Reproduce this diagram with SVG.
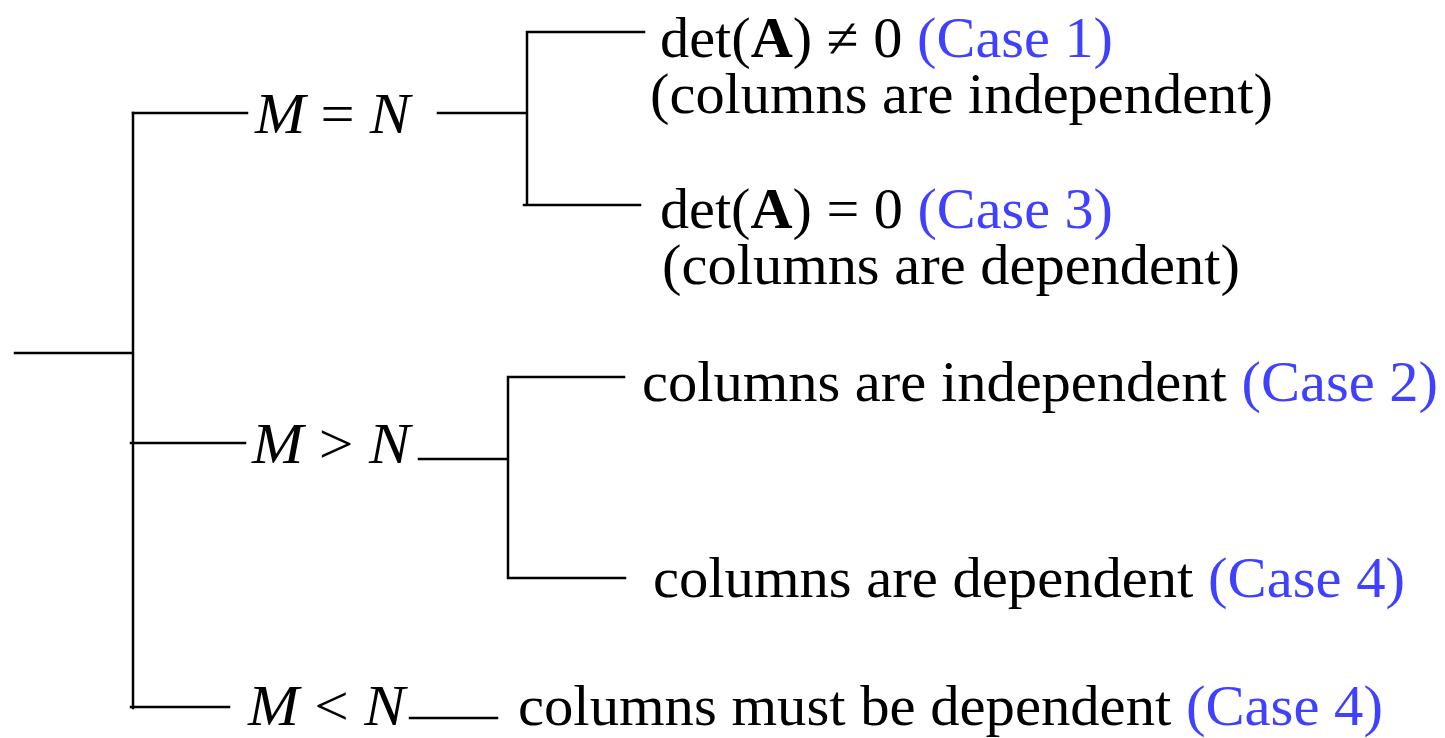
<svg xmlns="http://www.w3.org/2000/svg" width="1445" height="738" viewBox="0 0 1445 738">
<style>
.ln{stroke:#000;stroke-width:2.5;fill:none;stroke-linecap:square}
.t{font-family:"Liberation Serif","Times New Roman",serif;font-size:56px;fill:#000}
.m{font-family:"Liberation Serif","Times New Roman",serif;font-size:56px;fill:#000;font-style:italic}
.b{font-weight:bold}
.c{fill:#4040ff}
</style>
<rect width="1445" height="738" fill="#fff"/>
<g id="connectors">
<path class="ln" d="M15 353H133M133 113V708"/>
<path class="ln" d="M133 113H247M438 113H527M527 32V205M527 32H644M524 205H640"/>
<path class="ln" d="M131 443H245M419 459H508M508 377V578M508 377H624M508 578H625"/>
<path class="ln" d="M131 707H229M410 718H497"/>
</g>
<g id="n-meqn"><text class="m" x="255" y="133" textLength="155" lengthAdjust="spacingAndGlyphs">M<tspan font-style="normal"> = </tspan>N</text></g>
<g id="n-mgtn"><text class="m" x="252" y="463" textLength="158" lengthAdjust="spacingAndGlyphs">M<tspan font-style="normal"> &gt; </tspan>N</text></g>
<g id="n-mltn"><text class="m" x="248" y="725" textLength="157" lengthAdjust="spacingAndGlyphs">M<tspan font-style="normal"> &lt; </tspan>N</text></g>
<g id="n-case1">
<text class="t" x="660" y="57" textLength="453" lengthAdjust="spacingAndGlyphs">det(<tspan class="b">A</tspan>) ≠ 0 <tspan class="c">(Case 1)</tspan></text>
<text class="t" x="650" y="113" textLength="623" lengthAdjust="spacingAndGlyphs">(columns are independent)</text>
</g>
<g id="n-case3">
<text class="t" x="660" y="228" textLength="453" lengthAdjust="spacingAndGlyphs">det(<tspan class="b">A</tspan>) = 0 <tspan class="c">(Case 3)</tspan></text>
<text class="t" x="662" y="284" textLength="578" lengthAdjust="spacingAndGlyphs">(columns are dependent)</text>
</g>
<g id="n-case2"><text class="t" x="642" y="401" textLength="796" lengthAdjust="spacingAndGlyphs">columns are independent <tspan class="c">(Case 2)</tspan></text></g>
<g id="n-case4a"><text class="t" x="653" y="597" textLength="752" lengthAdjust="spacingAndGlyphs">columns are dependent <tspan class="c">(Case 4)</tspan></text></g>
<g id="n-case4b"><text class="t" x="518" y="725" textLength="865" lengthAdjust="spacingAndGlyphs">columns must be dependent <tspan class="c">(Case 4)</tspan></text></g>
</svg>
